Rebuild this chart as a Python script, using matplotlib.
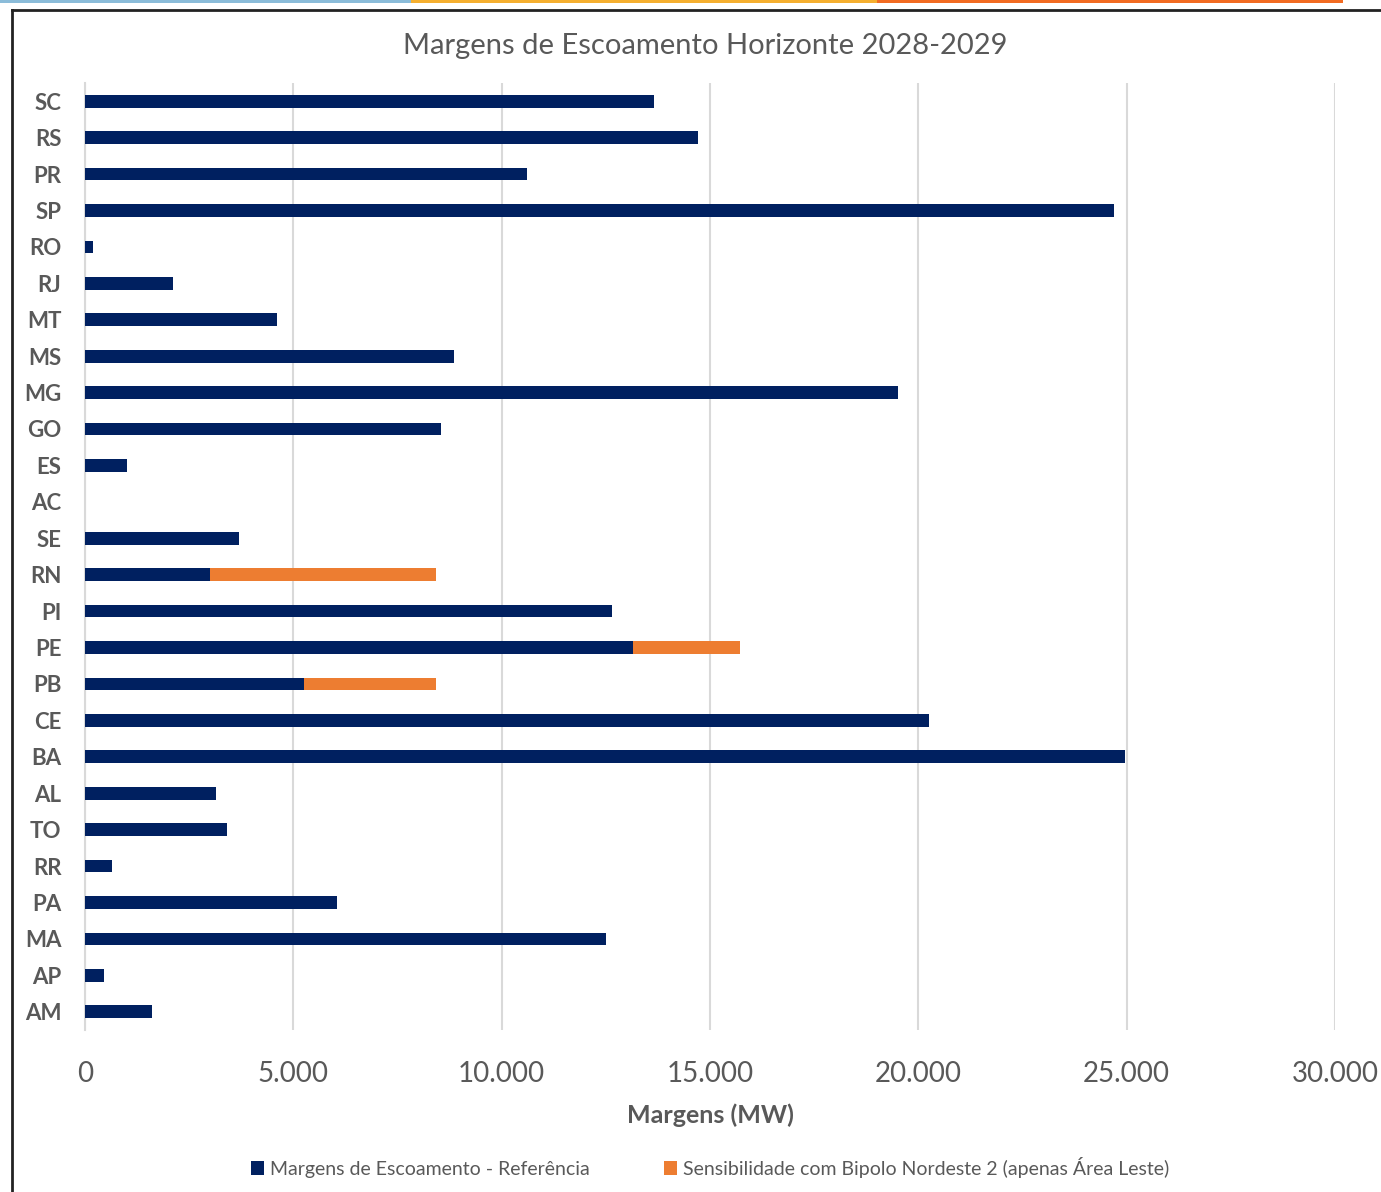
import numpy as np
import matplotlib.pyplot as plt
from matplotlib.lines import Line2D
from matplotlib.patches import Rectangle

# dados
estados = ["SC", "RS", "PR", "SP", "RO", "RJ", "MT", "MS", "MG", "GO", "ES", "AC", "SE",
           "RN", "PI", "PE", "PB", "CE", "BA", "AL", "TO", "RR", "PA", "MA", "AP", "AM"]
referencia = [13650, 14700, 10600, 24700, 200, 2100, 4600, 8850, 19500, 8550, 1000, 0, 3700,
              3000, 12650, 13150, 5250, 20250, 24950, 3150, 3400, 650, 6050, 12500, 450, 1600]
sensibilidade = [0, 0, 0, 0, 0, 0, 0, 0, 0, 0, 0, 0, 0,
                 5420, 0, 2570, 3170, 0, 0, 0, 0, 0, 0, 0, 0, 0]
x_ticks = [0, 5000, 10000, 15000, 20000, 25000, 30000]
x_labels = ["0", "5.000", "10.000", "15.000", "20.000", "25.000", "30.000"]

AZUL = "#002060"
LARANJA = "#ED7D31"
CINZA = "#595959"

plt.rcParams["font.family"] = ["Lato", "DejaVu Sans"]

fig = plt.figure(figsize=(13.81, 11.92), dpi=100)
ax = fig.add_axes([0.0616, 0.1359, 0.9051, 0.7945])

y = np.arange(len(estados))
altura = 0.35
ax.barh(y, referencia, height=altura, color=AZUL, zorder=3,
        label="Margens de Escoamento - Referência")
ax.barh(y, sensibilidade, left=referencia, height=altura, color=LARANJA, zorder=3,
        label="Sensibilidade com Bipolo Nordeste 2 (apenas Área Leste)")

ax.set_ylim(len(estados) - 0.5, -0.5)
ax.set_yticks(y)
ax.set_yticklabels(estados, fontsize=16, fontweight="bold", color=CINZA)
ax.set_xlim(0, 30000)
ax.set_xticks(x_ticks)
ax.set_xticklabels(x_labels, fontsize=20, color=CINZA)
ax.tick_params(axis="both", length=0)
ax.tick_params(axis="x", pad=22)
ax.tick_params(axis="y", pad=24 - 7)

ax.grid(axis="x", color="#d9d9d9", linewidth=1.5, zorder=0)
for lado in ["top", "right", "bottom"]:
    ax.spines[lado].set_visible(False)
ax.spines["left"].set_color("#d9d9d9")
ax.spines["left"].set_linewidth(1.5)

ax.set_xlabel("Margens (MW)", fontsize=18, fontweight="bold", color=CINZA, labelpad=12)
fig.text(0.511, 0.9615, "Margens de Escoamento Horizonte 2028-2029",
         fontsize=21, color=CINZA, ha="center", va="center")

ax.legend(loc="center", bbox_to_anchor=(0.5, -0.145), ncol=2, frameon=False,
          fontsize=14, labelcolor=CINZA, handlelength=0.7, handleheight=0.7,
          handletextpad=0.3, columnspacing=3.8)

# moldura e faixa colorida no topo
fig.add_artist(Line2D([12 / 1381, 12 / 1381], [0, 1 - 10 / 1192], color="#222222",
                      linewidth=2, transform=fig.transFigure))
fig.add_artist(Line2D([12 / 1381, 1], [1 - 10 / 1192, 1 - 10 / 1192], color="#222222",
                      linewidth=2, transform=fig.transFigure))
for x0, x1, cor in [(0, 411, "#8BBCD9"), (411, 877, "#F5AF2F"), (877, 1343, "#F26B22")]:
    fig.add_artist(Rectangle((x0 / 1381, 1 - 2.5 / 1192), (x1 - x0) / 1381, 2.5 / 1192,
                             color=cor, transform=fig.transFigure, linewidth=0))

fig.savefig("out.png", dpi=100)
